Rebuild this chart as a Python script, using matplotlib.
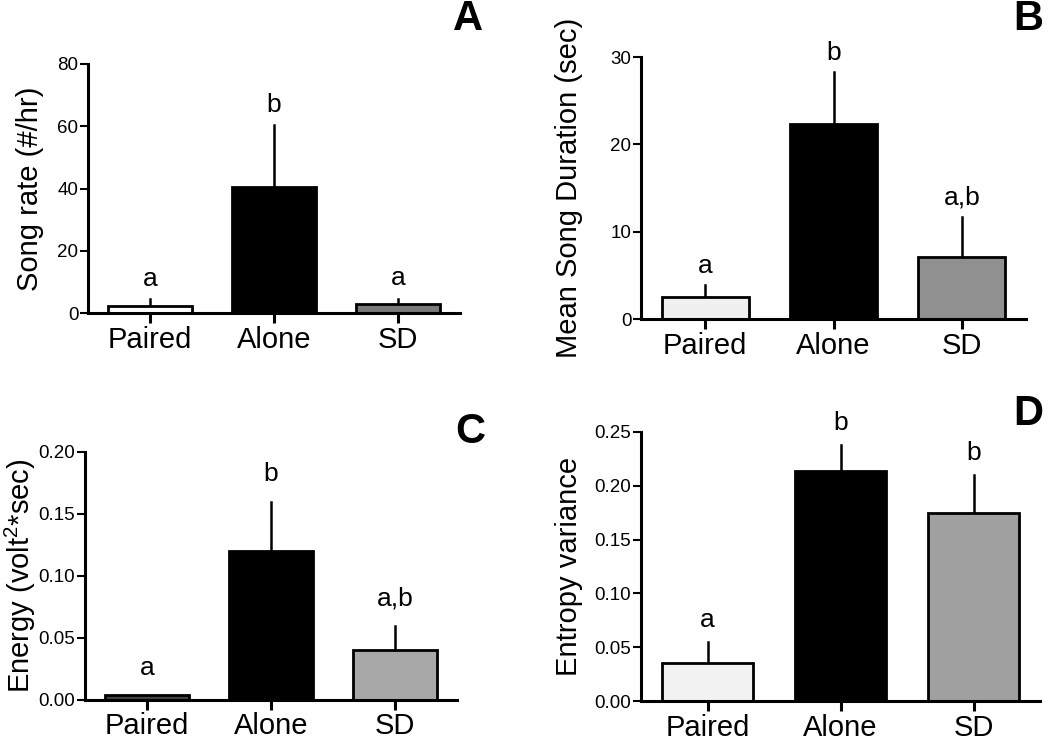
import numpy as np
import matplotlib
matplotlib.use("Agg")
import matplotlib.pyplot as plt

plt.rcParams["font.family"] = ["Liberation Sans", "DejaVu Sans"]
plt.rcParams["mathtext.fontset"] = "custom"
plt.rcParams["mathtext.rm"] = "Liberation Sans"

groups = ["Paired", "Alone", "SD"]

# panel A: song rate
rate_mean = [2.4, 40.4, 2.9]
rate_err = [2.0, 20.0, 1.7]
rate_letters = ["a", "b", "a"]

# panel B: mean song duration
dur_mean = [2.55, 22.3, 7.15]
dur_err = [1.35, 6.0, 4.55]
dur_letters = ["a", "b", "a,b"]

# panel C: energy
energy_mean = [0.004, 0.120, 0.040]
energy_err = [0.0, 0.040, 0.020]
energy_letters = ["a", "b", "a,b"]

# panel D: entropy variance
ent_mean = [0.035, 0.2135, 0.175]
ent_err = [0.020, 0.0245, 0.035]
ent_letters = ["a", "b", "b"]

W, H = 1050, 748
fig = plt.figure(figsize=(W / 100, H / 100), dpi=100)


def px_axes(l, r, t, b):
    return fig.add_axes([l / W, 1 - b / H, (r - l) / W, (b - t) / H])


def panel(ax, means, errs, letters, colors, ymax, yticks, fmt, ylabel, labx, letter_gap=6):
    x = np.arange(len(groups))
    ax.bar(x, means, width=0.68, color=colors, edgecolor="black", linewidth=2, zorder=2)
    for xi, m, e in zip(x, means, errs):
        if e > 0:
            ax.plot([xi, xi], [m, m + e], color="black", lw=1.8, zorder=1)
    for xi, m, e, t in zip(x, means, errs, letters):
        ax.annotate(t, (xi, m + e), xytext=(0, letter_gap), textcoords="offset points",
                    ha="center", va="bottom", fontsize=19)
    ax.set_xlim(-0.5, 2.5)
    ax.set_ylim(0, ymax)
    ax.set_yticks(yticks)
    ax.set_yticklabels([fmt.format(v) for v in yticks], fontsize=13.5)
    ax.set_xticks(x)
    ax.set_xticklabels(groups, fontsize=21)
    ax.spines["top"].set_visible(False)
    ax.spines["right"].set_visible(False)
    ax.spines["left"].set_linewidth(2.2)
    ax.spines["bottom"].set_linewidth(2.2)
    ax.spines["left"].set_bounds(0, ymax)
    ax.tick_params(axis="y", length=6, width=1.5, pad=1)
    ax.tick_params(axis="x", length=7, width=2.2, pad=2)
    ax.set_ylabel(ylabel, fontsize=21)
    ax.yaxis.set_label_coords(labx, 0.5)
    for c in ax.get_children():
        c.set_clip_on(False)


axA = px_axes(88, 460, 64, 313)
panel(axA, rate_mean, rate_err, rate_letters, ["white", "black", "#7a7a7a"],
      80, [0, 20, 40, 60, 80], "{:.0f}", "Song rate (#/hr)", -0.118)

axB = px_axes(641, 1026, 57, 319)
panel(axB, dur_mean, dur_err, dur_letters, ["#f0f0f0", "black", "#909090"],
      30, [0, 10, 20, 30], "{:.0f}", "Mean Song Duration (sec)", -0.150, letter_gap=5)

axC = px_axes(85, 457, 452, 700)
panel(axC, energy_mean, energy_err, energy_letters, ["#444444", "black", "#a8a8a8"],
      0.20, [0, 0.05, 0.10, 0.15, 0.20], "{:.2f}", r"Energy (volt$^2$*sec)", -0.126, letter_gap=11)

axD = px_axes(641, 1040, 432, 701)
panel(axD, ent_mean, ent_err, ent_letters, ["#f2f2f2", "black", "#a0a0a0"],
      0.25, [0, 0.05, 0.10, 0.15, 0.20, 0.25], "{:.2f}", "Entropy variance", -0.145, letter_gap=7)

for t, (cx, cy) in zip("ABCD", [(468, 19), (1028, 19), (470, 432), (1028, 414)]):
    fig.text(cx / W, 1 - cy / H, t, fontsize=30, fontweight="bold", ha="center", va="center")

fig.savefig("out.png", dpi=100)
